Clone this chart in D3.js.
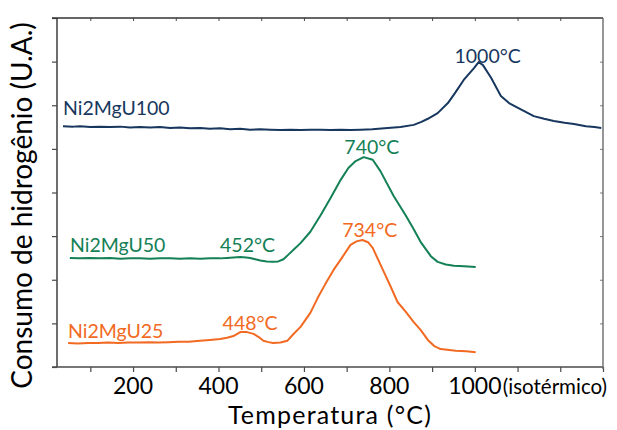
<!DOCTYPE html>
<html>
<head>
<meta charset="utf-8">
<script src="https://cdn.jsdelivr.net/npm/d3@7/dist/d3.min.js"></script>
<style>
  html, body { margin: 0; padding: 0; background: #fff; }
  svg { display: block; }
  text { font-family: Lato, "Open Sans", sans-serif; }
</style>
</head>
<body>
<svg id="chart" width="617" height="430"></svg>
<script>
// ---------- data (temperature °C, intensity U.A.) ----------
const seriesNames = ["Ni2MgU100", "Ni2MgU50", "Ni2MgU25"];

const ni2MgU100 = [[36,5.52],[60,5.51],[76,5.52],[100,5.50],[123,5.51],[146,5.50],[170,5.51],[193,5.49],[216,5.50],[240,5.49],[263,5.50],[287,5.48],[310,5.49],[333,5.47],[357,5.48],[380,5.46],[404,5.47],[427,5.45],[451,5.46],[474,5.44],[498,5.45],[521,5.44],[545,5.43],[568,5.44],[592,5.43],[615,5.44],[639,5.44],[662,5.43],[686,5.44],[709,5.43],[733,5.44],[760,5.45],[796,5.48],[826,5.50],[857,5.55],[875,5.62],[890,5.69],[913,5.82],[937,6.05],[955,6.30],[974,6.58],[998,6.85],[1009,6.99],[1019,6.92],[1038,6.63],[1061,6.21],[1080,6.05],[1101,5.94],[1138,5.75],[1162,5.69],[1185,5.64],[1210,5.60],[1232,5.57],[1260,5.52],[1280,5.50],[1296,5.48]];

const ni2MgU50 = [[52,2.50],[75,2.49],[99,2.50],[122,2.49],[146,2.50],[170,2.48],[193,2.49],[216,2.49],[240,2.48],[263,2.49],[287,2.49],[310,2.48],[334,2.49],[357,2.48],[381,2.49],[404,2.49],[420,2.50],[435,2.51],[451,2.52],[465,2.51],[474,2.50],[486,2.47],[498,2.44],[513,2.42],[528,2.41],[540,2.42],[552,2.47],[563,2.57],[575,2.68],[592,2.84],[615,3.10],[639,3.48],[662,3.87],[686,4.29],[704,4.56],[721,4.72],[740,4.81],[761,4.75],[779,4.49],[810,3.92],[838,3.48],[855,3.19],[873,2.87],[897,2.54],[913,2.41],[932,2.35],[951,2.32],[975,2.31],[1002,2.29]];

const ni2MgU25 = [[48,0.55],[71,0.54],[95,0.55],[118,0.55],[142,0.56],[165,0.55],[189,0.56],[212,0.56],[236,0.57],[259,0.56],[283,0.57],[306,0.58],[330,0.58],[357,0.60],[380,0.62],[404,0.64],[420,0.67],[435,0.71],[451,0.80],[467,0.80],[482,0.76],[495,0.68],[505,0.60],[517,0.57],[528,0.55],[545,0.56],[561,0.60],[575,0.75],[592,0.92],[615,1.24],[632,1.58],[650,1.90],[669,2.22],[690,2.52],[709,2.80],[723,2.88],[737,2.91],[750,2.86],[761,2.73],[787,2.18],[805,1.80],[819,1.49],[838,1.27],[857,1.03],[873,0.85],[890,0.62],[905,0.48],[920,0.41],[955,0.37],[980,0.36],[1002,0.34]];

// peak annotations: [temperature position, intensity position, label]
const peaksU100 = [[1030, 6.97, "1000°C"]];
const peaksU50  = [[759, 4.88, "740°C"], [468, 2.64, "452°C"]];
const peaksU25  = [[754, 2.98, "734°C"], [474, 0.85, "448°C"]];

const xTickValues = [200, 400, 600, 800, 1000];
const xMinorTicks = [100,200,300,400,500,600,700,800,900,1000,1100,1200,1300];
const yTickValues = [0,1,2,3,4,5,6,7,8];
const isoLabel = "(isotérmico)";
const xTitle = "Temperatura (°C)";
const yTitle = "Consumo de hidrogênio (U.A.)";

// ---------- layout ----------
const colors = { "Ni2MgU100": "#17375e", "Ni2MgU50": "#148055", "Ni2MgU25": "#f26a22" };
const plot = { left: 57, right: 603, top: 18, bottom: 367 };

const svg = d3.select("#chart");
const x = d3.scaleLinear().domain([22, 1300]).range([plot.left, plot.right]);
const y = d3.scaleLinear().domain([0, 8]).range([plot.bottom, plot.top]);

const axisColor = "#4a4a4a";

// bottom axis ticks (outward)
const gB = svg.append("g").attr("transform", `translate(0,${plot.bottom})`)
  .call(d3.axisBottom(x).tickValues(xMinorTicks).tickSize(5).tickFormat(""));
gB.select(".domain").remove();
gB.selectAll("line").attr("stroke", axisColor).attr("stroke-width", 1.2);

// top axis ticks (inward)
const gT = svg.append("g").attr("transform", `translate(0,${plot.top})`)
  .call(d3.axisBottom(x).tickValues(xMinorTicks.slice(0, -1)).tickSize(3).tickFormat(""));
gT.select(".domain").remove();
gT.selectAll("line").attr("stroke", axisColor).attr("stroke-width", 1);

// left axis ticks (outward)
const gL = svg.append("g").attr("transform", `translate(${plot.left},0)`)
  .call(d3.axisLeft(y).tickValues(yTickValues).tickSize(5).tickFormat(""));
gL.select(".domain").remove();
gL.selectAll("line").attr("stroke", axisColor).attr("stroke-width", 1.2);

// right axis ticks (inward)
const gR = svg.append("g").attr("transform", `translate(${plot.right},0)`)
  .call(d3.axisLeft(y).tickValues(yTickValues.slice(1, -1)).tickSize(3).tickFormat(""));
gR.select(".domain").remove();
gR.selectAll("line").attr("stroke", "#7a7a7a").attr("stroke-width", 1);

// frame
svg.append("line").attr("x1", plot.left).attr("x2", plot.left).attr("y1", plot.top).attr("y2", plot.bottom)
  .attr("stroke", axisColor).attr("stroke-width", 1.6);
svg.append("line").attr("x1", plot.left - 5).attr("x2", plot.right).attr("y1", plot.bottom).attr("y2", plot.bottom)
  .attr("stroke", axisColor).attr("stroke-width", 1.6);
svg.append("line").attr("x1", plot.left - 5).attr("x2", plot.right).attr("y1", plot.top).attr("y2", plot.top)
  .attr("stroke", "#333").attr("stroke-width", 1.4);
svg.append("line").attr("x1", plot.right).attr("x2", plot.right).attr("y1", plot.top).attr("y2", plot.bottom + 2)
  .attr("stroke", "#6a6a6a").attr("stroke-width", 1.4);

// x tick labels
svg.append("g").selectAll("text").data(xTickValues).join("text")
  .attr("x", d => x(d)).attr("y", 394)
  .attr("text-anchor", "middle").attr("font-size", 23).attr("fill", "#000")
  .text(d => d);
svg.append("text").attr("x", x(1000) + 28).attr("y", 394)
  .attr("font-size", 20.5).attr("fill", "#000").text(isoLabel);

// axis titles
svg.append("text").attr("x", (plot.left + plot.right) / 2).attr("y", 424)
  .attr("text-anchor", "middle").attr("font-size", 25).attr("letter-spacing", 1.2)
  .attr("fill", "#000").text(xTitle);
svg.append("text").attr("transform", `translate(32,${(plot.top + plot.bottom) / 2 + 13}) rotate(-90)`)
  .attr("text-anchor", "middle").attr("font-size", 28).attr("fill", "#000").text(yTitle);

// lines
const line = d3.line().x(d => x(d[0])).y(d => y(d[1]));
const seriesData = [ni2MgU100, ni2MgU50, ni2MgU25];
seriesNames.forEach((name, i) => {
  svg.append("path").datum(seriesData[i])
    .attr("fill", "none").attr("stroke", colors[name])
    .attr("stroke-width", 2).attr("stroke-linejoin", "round").attr("d", line);
});

// series labels
const labelPos = { "Ni2MgU100": [63, 115], "Ni2MgU50": [70, 252], "Ni2MgU25": [68, 338] };
seriesNames.forEach(name => {
  svg.append("text").attr("x", labelPos[name][0]).attr("y", labelPos[name][1])
    .attr("font-size", 19.5).attr("fill", colors[name]).text(name);
});

// peak labels
const peakSets = [peaksU100, peaksU50, peaksU25];
seriesNames.forEach((name, i) => {
  svg.append("g").selectAll("text").data(peakSets[i]).join("text")
    .attr("x", d => x(d[0])).attr("y", d => y(d[1]))
    .attr("text-anchor", "middle").attr("font-size", 19.5).attr("fill", colors[name])
    .text(d => d[2]);
});
</script>
</body>
</html>
